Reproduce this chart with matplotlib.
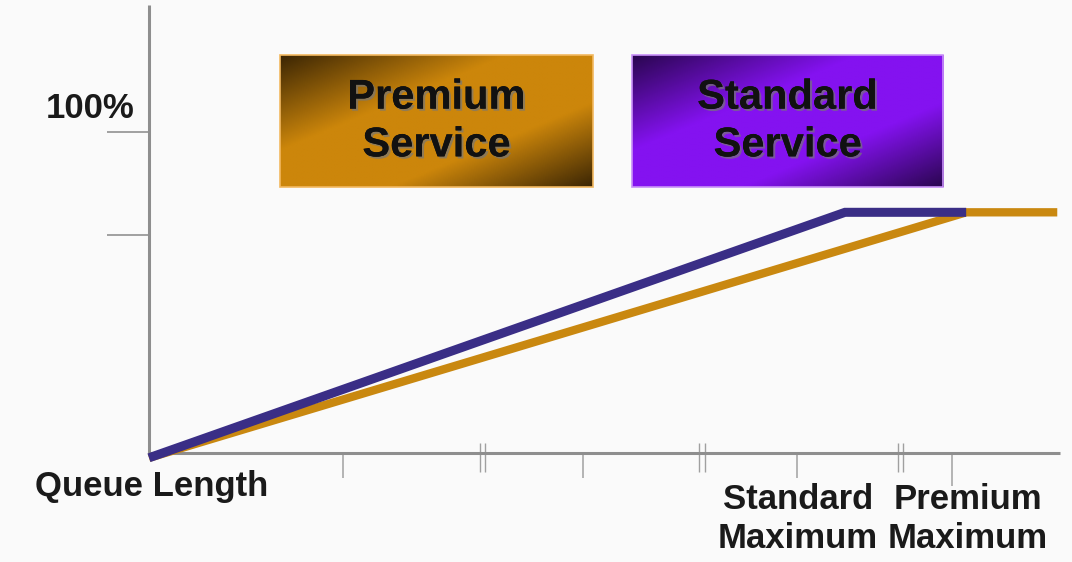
import numpy as np
import matplotlib
matplotlib.use("Agg")
import matplotlib.pyplot as plt
import matplotlib.patheffects as pe
from matplotlib.colors import LinearSegmentedColormap

# Queue length (arbitrary units) vs. drop probability (%)
standard_x = [0, 76.4, 89.7]
standard_y = [-1.5, 75, 75]
premium_x = [0, 89.7, 99.7]
premium_y = [-1.5, 75, 75]

y_ticks = [68, 100]
x_ticks = [21.3, 47.6, 71.1]
premium_max_tick = 88.1
break_marks = [36.6, 60.7, 82.5]

NAVY = "#3a2e86"
ORANGE = "#c98810"
AXIS = "#8e8e8e"

fig = plt.figure(figsize=(10.72, 5.62), dpi=100, facecolor="#fafafa")
ax = fig.add_axes([149 / 1072, 109 / 562, 911 / 1072, 448 / 562])
ax.set_facecolor("#fafafa")
ax.set_xlim(0, 100)
ax.set_ylim(0, 139.6)

for side in ("top", "right"):
    ax.spines[side].set_visible(False)
for side in ("left", "bottom"):
    ax.spines[side].set_color(AXIS)
    ax.spines[side].set_linewidth(2.2)
    ax.spines[side].set_capstyle("butt")

ax.set_yticks(y_ticks)
ax.set_yticklabels([])
ax.tick_params(axis="y", direction="out", length=30, width=1.4, color="#a0a0a0")
ax.set_xticks(x_ticks)
ax.set_xticks([premium_max_tick], minor=True)
ax.set_xticklabels([])
ax.tick_params(axis="x", which="major", direction="out", length=18, width=1.1, color="#a0a0a0")
ax.tick_params(axis="x", which="minor", direction="out", length=24, width=1.1, color="#a0a0a0")

# small double marks crossing the queue axis
for bx in break_marks:
    ax.vlines([bx - 0.3, bx + 0.3], -5.9, 3.1, color="#a0a0a0", lw=1.0, clip_on=False)

ax.plot(premium_x, premium_y, color=ORANGE, lw=6, solid_capstyle="butt",
        solid_joinstyle="miter", clip_on=False, zorder=3)
ax.plot(standard_x, standard_y, color=NAVY, lw=6.5, solid_capstyle="butt",
        solid_joinstyle="miter", clip_on=False, zorder=4)


def gradient_box(x0, x1, y0, y1, dark, bright, edge):
    # diagonal shading: dark corners top-left and bottom-right, bright band in between
    h, w = 120, 300
    u = np.linspace(0, 1, w)[None, :]
    v = np.linspace(0, 1, h)[:, None]
    t = (u + v) / 2
    cmap = LinearSegmentedColormap.from_list(
        "box", [(0, dark), (0.36, bright), (0.68, bright), (1.0, dark)])
    ax.imshow(t, cmap=cmap, extent=(x0, x1, y0, y1), origin="upper",
              aspect="auto", zorder=2, clip_on=False, interpolation="bilinear")
    ax.add_patch(plt.Rectangle((x0, y0), x1 - x0, y1 - y0, fill=False,
                               edgecolor=edge, lw=1.2, zorder=2.5, clip_on=False))


gradient_box(14.4, 48.7, 82.9, 124.0, "#3c2604", "#cc860b", "#f2b860")
gradient_box(53.0, 87.2, 82.9, 124.0, "#2a0650", "#8412f0", "#c890f8")

box_font = dict(fontsize=30, fontweight="bold", family=["Liberation Sans", "DejaVu Sans"],
                color="#111111", linespacing=1.25)
shadow = [pe.withSimplePatchShadow(offset=(1.5, -1.5), shadow_rgbFace="#777777", alpha=0.7),
          pe.Normal()]
ax.text(31.55, 103.3, "Premium\nService", ha="center", va="center",
        path_effects=shadow, zorder=5, **box_font)
ax.text(70.1, 103.3, "Standard\nService", ha="center", va="center",
        path_effects=shadow, zorder=5, **box_font)

label_font = dict(fontsize=25, fontweight="bold", family=["Liberation Sans", "DejaVu Sans"],
                  color="#1a1a1a")
ax.text(-6.5, 107.5, "100%", ha="center", va="center", clip_on=False, **label_font)
ax.text(0.27, -10.3, "Queue Length", ha="center", va="center", clip_on=False, **label_font)
ax.text(71.2, -20.6, "Standard\nMaximum", ha="center", va="center", clip_on=False,
        linespacing=1.22, **label_font)
ax.text(89.9, -20.6, "Premium\nMaximum", ha="center", va="center", clip_on=False,
        linespacing=1.22, **label_font)

fig.savefig("out.png", dpi=100, facecolor=fig.get_facecolor())
